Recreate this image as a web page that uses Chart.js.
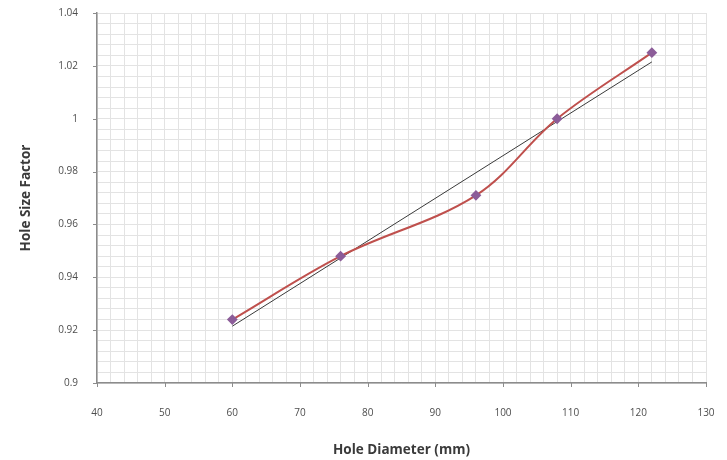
<!DOCTYPE html>
<html>
<head>
<meta charset="utf-8">
<script src="https://cdn.jsdelivr.net/npm/chart.js@4/dist/chart.umd.min.js"></script>
<style>
  html, body { margin: 0; padding: 0; background: #ffffff; }
  #wrap { width: 727px; height: 460px; position: relative; }
</style>
</head>
<body>
<div id="wrap"><canvas id="c"></canvas></div>
<script>
// ---- data ----
const holeDiameters = [60, 76, 96, 108, 122];
const holeSizeFactor = [0.924, 0.948, 0.971, 1.000, 1.025];
const trendX = [60, 122];
const trendY = [0.9215, 1.0215];
const xMajorTicks = [40, 50, 60, 70, 80, 90, 100, 110, 120, 130];
const yMajorTicks = [0.9, 0.92, 0.94, 0.96, 0.98, 1, 1.02, 1.04];
const xTitle = 'Hole Diameter (mm)';
const yTitle = 'Hole Size Factor';

const seriesPoints = holeDiameters.map((x, i) => ({ x: x, y: holeSizeFactor[i] }));
const trendPoints = trendX.map((x, i) => ({ x: x, y: trendY[i] }));

const isMajor = (v, step) => Math.abs(v / step - Math.round(v / step)) < 1e-6;

const majorTickPlugin = {
  id: 'majorTicks',
  afterDraw(chart) {
    const ctx = chart.ctx;
    const xs = chart.scales.x, ys = chart.scales.y;
    ctx.save();
    ctx.strokeStyle = '#8c8c8c';
    ctx.lineWidth = 1;
    ctx.beginPath();
    xMajorTicks.forEach(v => {
      const px = Math.round(xs.getPixelForValue(v)) + 0.5;
      ctx.moveTo(px, ys.bottom);
      ctx.lineTo(px, ys.bottom + 4);
    });
    yMajorTicks.forEach(v => {
      const py = Math.round(ys.getPixelForValue(v)) + 0.5;
      ctx.moveTo(xs.left - 4, py);
      ctx.lineTo(xs.left, py);
    });
    ctx.stroke();
    ctx.restore();
  }
};

new Chart(document.getElementById('c'), {
  type: 'scatter',
  data: {
    datasets: [
      {
        label: 'Hole Size Factor',
        data: seriesPoints,
        showLine: true,
        borderColor: '#bf504d',
        borderWidth: 2,
        tension: 0.35,
        pointStyle: 'rectRot',
        pointRadius: 4,
        pointBackgroundColor: '#8c5d99',
        pointBorderColor: '#8c5d99',
        order: 1
      },
      {
        label: 'Trend',
        data: trendPoints,
        showLine: true,
        borderColor: '#3a3a3a',
        borderWidth: 1,
        pointRadius: 0,
        tension: 0,
        order: 2
      }
    ]
  },
  options: {
    responsive: true,
    maintainAspectRatio: false,
    animation: false,
    layout: { padding: { left: 0, right: 21, top: 13, bottom: 0 } },
    plugins: {
      legend: { display: false },
      tooltip: { enabled: false }
    },
    scales: {
      x: {
        type: 'linear',
        min: 40, max: 130,
        afterFit(s) { s.height = 77; s.paddingLeft = 0; s.paddingRight = 0; },
        ticks: {
          stepSize: 2,
          autoSkip: false,
          maxRotation: 0,
          padding: 24,
          color: '#4d4d4d',
          font: { family: 'Open Sans', size: 10 },
          callback: v => isMajor(v, 10) ? String(v) : ''
        },
        grid: { color: '#e3e3e3', lineWidth: 1, drawTicks: false },
        border: { color: '#8c8c8c', width: 1.5 },
        title: {
          display: true,
          text: xTitle,
          color: '#3a3a3a',
          font: { family: 'Open Sans', size: 13.5, weight: 'bold' },
          padding: { top: 0, bottom: 2 }
        }
      },
      y: {
        type: 'linear',
        min: 0.9, max: 1.04,
        afterFit(s) { s.width = 97; s.paddingTop = 0; s.paddingBottom = 0; },
        ticks: {
          stepSize: 0.004,
          autoSkip: false,
          padding: 19,
          color: '#4d4d4d',
          font: { family: 'Open Sans', size: 10 },
          callback: v => isMajor(v, 0.02) ? String(parseFloat(v.toFixed(2))) : ''
        },
        grid: { color: '#e3e3e3', lineWidth: 1, drawTicks: false },
        border: { color: '#8c8c8c', width: 1.5 },
        title: {
          display: true,
          text: yTitle,
          color: '#3a3a3a',
          font: { family: 'Open Sans', size: 13.5, weight: 'bold' },
          padding: { top: 18, bottom: 0 }
        }
      }
    }
  },
  plugins: [majorTickPlugin]
});
</script>
</body>
</html>
